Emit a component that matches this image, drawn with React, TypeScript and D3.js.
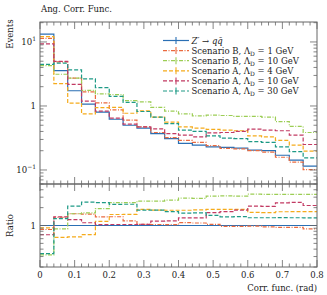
import React, { useEffect, useRef } from "react";
import * as d3 from "d3";

// bin edges of the angular correlation (rad)
const binEdges = [0, 0.04, 0.08, 0.12, 0.16, 0.2, 0.24, 0.28, 0.32, 0.36, 0.4,
  0.44, 0.48, 0.52, 0.56, 0.6, 0.64, 0.68, 0.72, 0.76, 0.8];

// events per bin
const zPrime = [13.3, 3.56, 1.73, 1.07, 0.8, 0.62, 0.5, 0.45, 0.37, 0.31,
  0.26, 0.245, 0.23, 0.225, 0.22, 0.205, 0.2, 0.17, 0.143, 0.115];
const scenB1 = [11.4, 4.9, 2.73, 1.66, 1.12, 0.87, 0.6, 0.47, 0.385, 0.32,
  0.29, 0.27, 0.24, 0.218, 0.213, 0.2, 0.19, 0.158, 0.133, 0.101];
const scenB10 = [4.26, 3.13, 2.73, 1.75, 1.54, 1.5, 1.21, 1.16, 0.95, 0.83,
  0.75, 0.7, 0.72, 0.71, 0.69, 0.69, 0.67, 0.57, 0.48, 0.385];
const scenA4 = [12.1, 2.24, 1.11, 0.75, 0.94, 0.95, 0.77, 0.84, 0.67, 0.56,
  0.47, 0.45, 0.43, 0.42, 0.41, 0.34, 0.33, 0.29, 0.245, 0.197];
const scenA10 = [9.3, 4.98, 2.18, 1.19, 0.83, 0.645, 0.52, 0.47, 0.44, 0.37,
  0.35, 0.33, 0.38, 0.385, 0.4, 0.435, 0.42, 0.41, 0.35, 0.25];
const scenA30 = [4.46, 4.66, 3.67, 2.65, 1.94, 1.41, 1.14, 0.82, 0.67, 0.53,
  0.42, 0.4, 0.34, 0.315, 0.31, 0.277, 0.27, 0.23, 0.193, 0.155];

const xTicks = [0, 0.1, 0.2, 0.3, 0.4, 0.5, 0.6, 0.7, 0.8];
const xTickLabels = ["0", "0.1", "0.2", "0.3", "0.4", "0.5", "0.6", "0.7", "0.8"];

const series = [
  { key: "zp", values: zPrime, color: "#2a6fb4", dash: null, label: "zp", lam: "" },
  { key: "b1", values: scenB1, color: "#ea6a3f", dash: "4,1.5,1,1.5", label: "Scenario B, ", lam: " = 1 GeV" },
  { key: "b10", values: scenB10, color: "#9ccd55", dash: "4,1.5,1,1.5", label: "Scenario B, ", lam: " = 10 GeV" },
  { key: "a4", values: scenA4, color: "#f5ab1b", dash: "4,2", label: "Scenario A, ", lam: " = 4 GeV" },
  { key: "a10", values: scenA10, color: "#c23a63", dash: "4,2", label: "Scenario A, ", lam: " = 10 GeV" },
  { key: "a30", values: scenA30, color: "#1e9a86", dash: "4,2", label: "Scenario A, ", lam: " = 30 GeV" },
];

const FONT = "DejaVu Serif";
const AXIS = "#666";

const App = () => {
  const svgRef = useRef(null);
  const width = 327, height = 295;
  const margin = { left: 40, right: 10, top: 22 };
  const split = 184, bottom = 267;

  useEffect(() => {
    document.body.style.margin = "0";
    const svg = d3.select(svgRef.current);
    svg.selectAll("*").remove();

    const x = d3.scaleLinear().domain([0, 0.8]).range([margin.left, width - margin.right]);
    const y = d3.scaleLog().domain([0.0604, 20.5]).range([split, margin.top]);
    const yr = d3.scaleLog().domain([0.2, 5]).range([bottom, split]);
    const x0 = x(0), x1 = x(0.8);

    const g = svg.append("g").attr("font-family", FONT).attr("fill", "#222");

    // step lines, top panel and ratio panel
    const step = (sc) => d3.line().curve(d3.curveStepAfter).x(d => x(d[0])).y(d => sc(d[1]));
    const topG = g.append("g");
    const ratG = g.append("g");
    series.forEach(s => {
      const pts = s.values.map((v, i) => [binEdges[i], v]);
      pts.push([binEdges[binEdges.length - 1], s.values[s.values.length - 1]]);
      topG.append("path")
        .attr("d", step(y)(pts))
        .attr("fill", "none")
        .attr("stroke", s.color)
        .attr("stroke-width", 1.2)
        .attr("stroke-dasharray", s.dash);

      const r = s.values.map((v, i) => Math.max(0.2, Math.min(5, v / zPrime[i])));
      const rp = r.map((v, i) => [binEdges[i], v]);
      rp.push([binEdges[binEdges.length - 1], r[r.length - 1]]);
      ratG.append("path")
        .attr("d", step(yr)(rp))
        .attr("fill", "none")
        .attr("stroke", s.color)
        .attr("stroke-width", 1.2)
        .attr("stroke-dasharray", s.dash);
    });

    // frames
    [[margin.top, split], [split, bottom]].forEach(([t, b]) => {
      g.append("rect")
        .attr("x", x0).attr("y", t)
        .attr("width", x1 - x0).attr("height", b - t)
        .attr("fill", "none").attr("stroke", AXIS).attr("stroke-width", 1);
    });

    const tick = (x1_, y1_, x2_, y2_) => g.append("line")
      .attr("x1", x1_).attr("y1", y1_).attr("x2", x2_).attr("y2", y2_)
      .attr("stroke", AXIS).attr("stroke-width", 0.8);

    // x ticks on every horizontal edge, pointing inward
    const xMinor = d3.range(0, 41).map(i => i * 0.02);
    xMinor.forEach(v => {
      const major = Math.abs(v * 10 - Math.round(v * 10)) < 1e-6;
      const len = major ? 7 : 3.5;
      const px = x(v);
      tick(px, margin.top, px, margin.top + len);
      tick(px, split, px, split - len);
      tick(px, split, px, split + len);
      tick(px, bottom, px, bottom - len);
    });

    // log ticks
    const logTicks = (lo, hi) => {
      const out = [];
      for (let e = -2; e <= 2; e++) {
        for (let m = 1; m <= 9; m++) {
          const v = m * Math.pow(10, e);
          if (v >= lo && v <= hi) out.push({ v, major: m === 1 });
        }
      }
      return out;
    };
    logTicks(0.0604, 20.5).forEach(t => {
      const py = y(t.v), len = t.major ? 7 : 3.5;
      tick(x0, py, x0 + len, py);
      tick(x1, py, x1 - len, py);
    });
    logTicks(0.2, 5).forEach(t => {
      const py = yr(t.v), len = t.major ? 7 : 3.5;
      tick(x0, py, x0 + len, py);
      tick(x1, py, x1 - len, py);
    });

    // y tick labels
    const yLab = (py, base, exp) => {
      const t = g.append("text").attr("x", 36).attr("y", py + 3)
        .attr("text-anchor", "end").attr("font-size", 8.5);
      t.append("tspan").text(base);
      if (exp) t.append("tspan").attr("dy", -3.5).attr("font-size", 6).text(exp);
    };
    yLab(y(10), "10", "1");
    yLab(y(1), "1", null);
    yLab(y(0.1), "10", "\u22121");
    yLab(yr(1), "1", null);

    // x tick labels
    xTicks.forEach((v, i) => {
      g.append("text").attr("x", x(v)).attr("y", 278)
        .attr("text-anchor", "middle").attr("font-size", 8.5)
        .text(xTickLabels[i]);
    });

    g.append("text").attr("x", x1).attr("y", 290.5)
      .attr("text-anchor", "end").attr("font-size", 8.5)
      .text("Corr. func. (rad)");
    g.append("text").attr("x", 41).attr("y", 12)
      .attr("font-size", 8.5).text("Ang. Corr. Func.");
    g.append("text").attr("transform", "translate(12.5,19.5) rotate(-90)")
      .attr("text-anchor", "end").attr("font-size", 8.5).text("Events");
    g.append("text").attr("transform", `translate(12.5,${yr(1)}) rotate(-90)`)
      .attr("text-anchor", "middle").attr("font-size", 8.5).text("Ratio");

    // legend
    const lg = g.append("g");
    series.forEach((s, i) => {
      const ly = 40.5 + i * 10.1;
      lg.append("line").attr("x1", 163).attr("x2", 189).attr("y1", ly).attr("y2", ly)
        .attr("stroke", s.color).attr("stroke-width", 1.2)
        .attr("stroke-dasharray", s.dash);
      lg.append("line").attr("x1", 176).attr("x2", 176).attr("y1", ly - 3.5).attr("y2", ly + 3.5)
        .attr("stroke", s.color).attr("stroke-width", 1.1);
      const t = lg.append("text").attr("x", 191.5).attr("y", ly + 3).attr("font-size", 8.5);
      if (s.key === "zp") {
        t.append("tspan").attr("font-style", "italic").text("Z\u2032");
        t.append("tspan").text(" \u2192 ");
        t.append("tspan").attr("font-style", "italic").text("q");
        t.append("tspan").attr("font-style", "italic").text("q\u0304");
      } else {
        t.append("tspan").text(s.label + "\u039B");
        t.append("tspan").attr("dy", 2).attr("font-size", 6).text("D");
        t.append("tspan").attr("dy", -2).text(s.lam);
      }
    });
  }, []);

  return (
    <svg ref={svgRef} width={width} height={height} style={{ display: "block", background: "#fff" }} />
  );
};

export default App;
